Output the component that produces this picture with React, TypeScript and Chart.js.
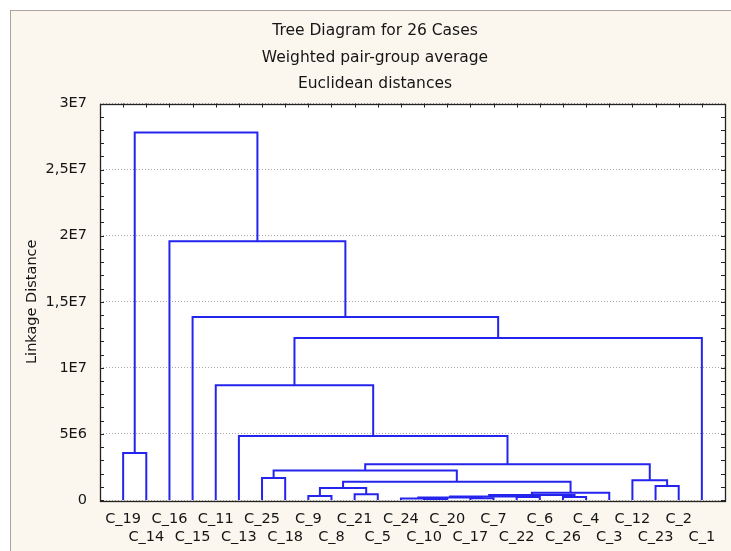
import React, { useEffect, useRef } from "react";
import { Chart, registerables } from "chart.js";

Chart.register(...registerables);

const titleLines = ["Tree Diagram for 26 Cases", "Weighted pair-group average", "Euclidean distances"];
const yAxisTitle = "Linkage Distance";

const leafNames = [
  "C_19", "C_14", "C_16", "C_15", "C_11", "C_13", "C_25", "C_18", "C_9", "C_8",
  "C_21", "C_5", "C_24", "C_10", "C_20", "C_17", "C_7", "C_22", "C_6", "C_26",
  "C_4", "C_3", "C_12", "C_23", "C_2", "C_1",
];

// Each merge k ("M" + k) joins mergeLeft[k] and mergeRight[k] at mergeHeight[k]
const mergeLeft = [
  "C_10", "C_24", "C_17", "M1", "C_22", "M3", "C_26", "M5", "M7", "C_21",
  "C_9", "M10", "M11", "C_25", "M13", "C_23", "C_12", "M14", "C_13", "C_11",
  "M19", "C_15", "C_16", "C_19", "M23",
];
const mergeRight = [
  "C_20", "M0", "C_7", "M2", "C_6", "M4", "C_4", "M6", "C_3", "C_5",
  "C_8", "M9", "M8", "C_18", "M12", "C_2", "M15", "M16", "M17", "M18",
  "C_1", "M20", "M21", "C_14", "M22",
];
const mergeHeight = [
  0.8e5, 1.1e5, 1.4e5, 1.8e5, 2.2e5, 2.6e5, 2.2e5, 3.8e5, 5.5e5, 4.3e5,
  3.0e5, 9.1e5, 1.39e6, 1.67e6, 2.23e6, 1.06e6, 1.5e6, 2.7e6, 4.85e6, 8.69e6,
  1.225e7, 1.384e7, 1.957e7, 3.56e6, 2.78e7,
];

const yTickValues = [0, 5e6, 1e7, 1.5e7, 2e7, 2.5e7, 3e7];
const yTickLabels = ["0", "5E6", "1E7", "1,5E7", "2E7", "2,5E7", "3E7"];
const yMinorStep = 1e6;

const FONT = "'DejaVu Sans', 'Liberation Sans', sans-serif";
const LINE_COLOR = "#2424ee";
const TEXT_COLOR = "#151515";

function nodePos(id: string): number {
  if (id.startsWith("M")) {
    const k = parseInt(id.slice(1), 10);
    return (nodePos(mergeLeft[k]) + nodePos(mergeRight[k])) / 2;
  }
  return leafNames.indexOf(id);
}
function nodeHeight(id: string): number {
  if (id.startsWith("M")) return mergeHeight[parseInt(id.slice(1), 10)];
  return 0;
}

const framePlugin = {
  id: "framePlugin",
  beforeDraw(chart: any) {
    const { ctx, chartArea: a } = chart;
    ctx.save();
    ctx.fillStyle = "#ffffff";
    ctx.fillRect(a.left, a.top, a.right - a.left, a.bottom - a.top);
    ctx.restore();
  },
  afterDraw(chart: any) {
    const { ctx, chartArea: a, scales } = chart;
    ctx.save();
    ctx.strokeStyle = "#222";
    ctx.lineWidth = 1;
    ctx.beginPath();
    const y = scales.y;
    const x = scales.x;
    for (let v = 0; v <= 3e7 + 1; v += yMinorStep) {
      const py = Math.round(y.getPixelForValue(v)) + 0.5;
      ctx.moveTo(a.left, py);
      ctx.lineTo(a.left + 4, py);
      ctx.moveTo(a.right - 4, py);
      ctx.lineTo(a.right, py);
    }
    leafNames.forEach((_, i) => {
      const px = Math.round(x.getPixelForValue(i)) + 0.5;
      ctx.moveTo(px, a.top);
      ctx.lineTo(px, a.top + 4);
    });
    ctx.stroke();
    ctx.lineWidth = 1.3;
    ctx.strokeRect(Math.round(a.left) + 0.5, Math.round(a.top) + 0.5, Math.round(a.right - a.left), Math.round(a.bottom - a.top));
    ctx.restore();
  },
};

export default function App() {
  const canvasRef = useRef<HTMLCanvasElement | null>(null);

  useEffect(() => {
    if (!canvasRef.current) return;
    const datasets = mergeHeight.map((h, k) => {
      const l = mergeLeft[k];
      const r = mergeRight[k];
      const pl = nodePos(l);
      const pr = nodePos(r);
      return {
        data: [
          { x: pl, y: nodeHeight(l) },
          { x: pl, y: h },
          { x: pr, y: h },
          { x: pr, y: nodeHeight(r) },
        ],
        showLine: true,
        borderColor: LINE_COLOR,
        borderWidth: 2,
        pointRadius: 0,
        tension: 0,
        fill: false,
      };
    });

    const chart = new Chart(canvasRef.current, {
      type: "scatter",
      data: { datasets },
      options: {
        animation: false,
        responsive: false,
        maintainAspectRatio: false,
        events: [],
        layout: { padding: { left: 14, right: 6, top: 0, bottom: 0 } },
        plugins: {
          legend: { display: false },
          tooltip: { enabled: false },
          title: {
            display: true,
            text: titleLines,
            color: TEXT_COLOR,
            font: { family: FONT, size: 15.5, weight: "normal", lineHeight: 26.5 / 15.5 },
            padding: { top: 7, bottom: 6 },
          },
        },
        scales: {
          x: {
            type: "linear",
            min: -1,
            max: leafNames.length,
            grid: { display: false, drawTicks: false },
            border: { display: false },
            afterBuildTicks: (s: any) => {
              s.ticks = leafNames.map((_, i) => ({ value: i }));
            },
            afterFit: (s: any) => {
              s.height = 51;
            },
            ticks: {
              autoSkip: false,
              maxRotation: 0,
              minRotation: 0,
              padding: 10,
              color: TEXT_COLOR,
              font: { family: FONT, size: 14.5, lineHeight: 18 / 14.5 },
              callback: (v: any) => {
                const i = Math.round(Number(v));
                const name = leafNames[i] ?? "";
                return i % 2 === 0 ? [name, ""] : ["", name];
              },
            },
          },
          y: {
            type: "linear",
            min: 0,
            max: 3e7,
            grid: { color: "#a8a8a8", lineWidth: 1, drawTicks: false },
            border: { display: false, dash: [1, 2] },
            afterFit: (s: any) => {
              s.width = 75;
            },
            ticks: {
              stepSize: 5e6,
              padding: 13,
              color: TEXT_COLOR,
              font: { family: FONT, size: 14.5 },
              callback: (v: any) => {
                const idx = yTickValues.findIndex((t) => Math.abs(t - Number(v)) < 1);
                return idx >= 0 ? yTickLabels[idx] : "";
              },
            },
            title: {
              display: true,
              text: yAxisTitle,
              color: TEXT_COLOR,
              font: { family: FONT, size: 14.5, lineHeight: 1 },
              padding: { top: 0, bottom: 0 },
            },
          },
        },
      },
      plugins: [framePlugin],
    } as any);
    return () => chart.destroy();
  }, []);

  return (
    <div
      style={{
        position: "absolute",
        left: 10,
        top: 10,
        width: 721,
        height: 541,
        background: "#fbf7ee",
        borderTop: "1px solid #aaa49a",
        borderLeft: "1px solid #aaa49a",
        overflow: "hidden",
      }}
    >
      <canvas ref={canvasRef} width={720} height={540} style={{ display: "block" }} />
    </div>
  );
}
